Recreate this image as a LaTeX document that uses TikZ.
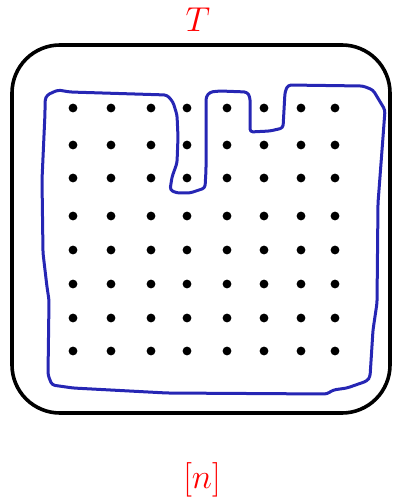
\documentclass[tikz,border=0pt]{standalone}
\usetikzlibrary{calc}
\definecolor{penblue}{RGB}{38,38,180}
\begin{document}
\begin{tikzpicture}[x=0.5pt,y=-0.5pt,
  dot/.style={circle,fill=black,inner sep=0pt,minimum size=4.4pt},
  lab/.style={text=red,font=\fontsize{16}{19}\selectfont},
  frame/.style={draw=black,line width=1.8pt,rounded corners=24pt},
  pen/.style={draw=penblue,line width=1.5pt,line join=round,line cap=round,rounded corners=1.5pt}]
\useasboundingbox (0,0) rectangle (397,497);
\node[frame,minimum width=189pt,minimum height=184pt,inner sep=0pt] (box) at (201,229) {};
\node[lab] (T) at (198,20) {$T$};
\node[lab] (n) at (202,480) {$[n]$};
\foreach \x [count=\i] in {73,111,151,187,227,264,301,335}{
  \foreach \y [count=\j] in {108,145,178,216,250,284,318,351}{
    \node[dot] (d-\i-\j) at (\x,\y) {};
  }
}
\draw[pen] (45,100) -- (47,95) -- (58,90) -- (70,92) -- (167,95) -- (173,102) -- (177,115)
  -- (178,137) -- (177,163) -- (172,177) -- (170,190) -- (177,193) -- (190,193) -- (205,188)
  -- (206,170) -- (206,97) -- (210,92) -- (220,91) -- (247,92) -- (250,97) -- (250,132)
  -- (270,131) -- (283,128) -- (285,92) -- (288,85) -- (363,86) -- (373,90) -- (385,110)
  -- (383,137) -- (378,203) -- (377,303) -- (373,330) -- (370,377) -- (367,381) -- (347,388)
  -- (333,390) -- (327,394) -- (167,393) -- (73,388) -- (52,385) -- (48,375) -- (49,300)
  -- (47,287) -- (43,253) -- (42,180) -- (45,113) -- cycle;
\end{tikzpicture}
\end{document}
